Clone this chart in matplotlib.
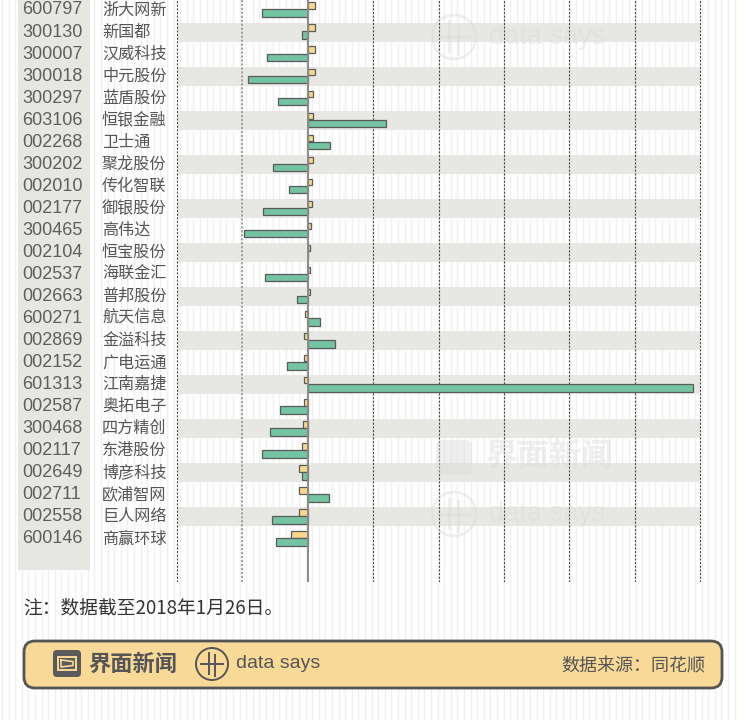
import matplotlib
matplotlib.use("Agg")
import matplotlib.pyplot as plt
import matplotlib.transforms as mtrans
from matplotlib.patches import Rectangle, FancyBboxPatch, Circle
import numpy as np

plt.rcParams['font.family'] = ['Noto Sans CJK SC', 'DejaVu Sans']

# ---------------- data ----------------
codes = ['600797', '300130', '300007', '300018', '300297', '603106', '002268', '300202',
         '002010', '002177', '300465', '002104', '002537', '002663', '600271', '002869',
         '002152', '601313', '002587', '300468', '002117', '002649', '002711', '002558',
         '600146']
names = ['浙大网新', '新国都', '汉威科技', '中元股份', '蓝盾股份', '恒银金融', '卫士通', '聚龙股份',
         '传化智联', '御银股份', '高伟达', '恒宝股份', '海联金汇', '普邦股份', '航天信息', '金溢科技',
         '广电运通', '江南嘉捷', '奥拓电子', '四方精创', '东港股份', '博彦科技', '欧浦智网', '巨人网络',
         '商赢环球']
yellow_vals = [1.1, 1.1, 1.1, 1.1, 0.8, 0.8, 0.8, 0.8, 0.6, 0.6, 0.5, 0.3, 0.3, 0.3, -0.4,
               -0.6, -0.6, -0.6, -0.6, -0.7, -0.9, -1.3, -1.3, -1.3, -2.6]
green_vals = [-7.0, -0.9, -6.3, -9.1, -4.6, 11.9, 3.4, -5.3, -2.8, -6.9, -9.8, 0.0, -6.6, -1.6,
              1.8, 4.2, -3.1, 58.9, -4.3, -5.7, -7.0, -0.9, 3.2, -5.4, -4.8]
grid_ticks = [-20, -10, 10, 20, 30, 40, 50, 60]
note_text = '注：数据截至2018年1月26日。'
source_text = '数据来源：同花顺'
brand_cn = '界面新闻'
brand_en = 'data says'

# ---------------- styling ----------------
W, H = 740, 720
TXT = '#555555'
GREEN = '#74c3a2'
YELLOW = '#f9d88e'
EDGE = '#5a5a5a'
STRIPE = '#e7e7e3'

fig = plt.figure(figsize=(W / 100, H / 100), dpi=100)
fig.patch.set_facecolor('#fefefc')

# background pixel axes
bg = fig.add_axes([0, 0, 1, 1], zorder=0)
bg.set_xlim(0, W)
bg.set_ylim(H, 0)
bg.axis('off')
bg.patch.set_alpha(0)
for xv in np.arange(2, W, 6.6):
    bg.axvline(xv, color='#f0f1f8', lw=1.0, zorder=0)

# code column
bg.add_patch(Rectangle((18, 0), 72, 570, facecolor='#e6e6e2', edgecolor='none', zorder=1))

# main axes: -20 at x=177px, 60 at x=700px
top_px, bot_px = 0, 582
px_per_unit = (700 - 177) / 80.0
left_px, right_px = 168, 712
ax = fig.add_axes([left_px / W, 1 - bot_px / H, (right_px - left_px) / W, (bot_px - top_px) / H],
                  zorder=1)
ax.patch.set_alpha(0)
n = len(codes)
y = np.arange(n)
row_px = 22.04
ax.set_xlim(-20 - (177 - left_px) / px_per_unit, 60 + (right_px - 700) / px_per_unit)
ax.set_ylim((bot_px - 10) / row_px, -10 / row_px)
for s in ax.spines.values():
    s.set_visible(False)
ax.set_xticks([])
ax.set_yticks([])

for i in y:
    if i % 2 == 1:
        ax.add_patch(Rectangle((grid_ticks[0] + 0.15, i - 0.43), grid_ticks[-1] - grid_ticks[0] - 0.15,
                               0.86, facecolor=STRIPE, edgecolor='none', zorder=0))

for t in grid_ticks:
    if t == -10:
        ax.axvline(t, color='#9a9a9a', lw=1.3, ls=(0, (1.2, 1.0)), zorder=1)
    else:
        ax.axvline(t, color='#4a4a4a', lw=0.8, ls=(0, (2.0, 1.3)), zorder=1)
ax.axvline(0, color='#8a8a8a', lw=1.4, zorder=4)

ax.barh(y - 0.2, yellow_vals, height=0.29, color=YELLOW, edgecolor=EDGE, lw=0.9, zorder=3)
ax.barh(y + 0.145, green_vals, height=0.34, color=GREEN, edgecolor=EDGE, lw=0.9, zorder=3)

# row labels
tr = mtrans.blended_transform_factory(bg.transData, ax.transData)
for i in y:
    ax.text(22, i, codes[i], transform=tr, ha='left', va='center', fontsize=13,
            color='#5e5e5e', family=['Liberation Sans', 'DejaVu Sans'], clip_on=False)
    ax.text(102, i, names[i], transform=tr, ha='left', va='center', fontsize=11.6,
            color=TXT, fontweight='medium', clip_on=False)

# foreground pixel axes (watermarks & footer)
fg = fig.add_axes([0, 0, 1, 1], zorder=2)
fg.set_xlim(0, W)
fg.set_ylim(H, 0)
fg.axis('off')
fg.patch.set_alpha(0)

WM = '#d9d9d9'
WA = 0.4
# data says watermarks
for cy in (37, 514):
    fg.add_patch(Circle((454, cy), 22, facecolor='none', edgecolor=WM, lw=2.0, alpha=WA))
    fg.plot([449, 449], [cy - 16, cy + 14], color=WM, lw=2.0, alpha=WA)
    fg.plot([458, 458], [cy - 13, cy + 17], color=WM, lw=2.0, alpha=WA)
    fg.plot([438, 470], [cy, cy], color=WM, lw=2.0, alpha=WA)
    fg.text(489, cy, brand_en, ha='left', va='center', fontsize=19.5, color=WM, alpha=WA,
            family=['Liberation Sans', 'DejaVu Sans'])
# 界面新闻 watermark
fg.add_patch(FancyBboxPatch((436, 440), 36, 35, boxstyle='round,pad=0,rounding_size=6',
                            facecolor=WM, edgecolor='none', alpha=WA))
fg.text(486, 457, brand_cn, ha='left', va='center', fontsize=23, fontweight='bold', color=WM,
        alpha=WA)

# note
fg.text(23, 608, note_text, ha='left', va='center', fontsize=13.5, color='#333333')

# footer box
fg.add_patch(FancyBboxPatch((24, 641), 698, 47, boxstyle='round,pad=0,rounding_size=11',
                            facecolor='#f8d998', edgecolor='#555555', lw=2.0))
# icon
fg.add_patch(FancyBboxPatch((53, 650), 28, 27, boxstyle='round,pad=0,rounding_size=4',
                            facecolor='#5b5b5b', edgecolor='none'))
fg.add_patch(Rectangle((58, 657), 18, 13, facecolor='none', edgecolor='#f8d998', lw=1.4))
fg.plot([61, 73, 73, 61, 61], [660, 661.5, 665.5, 667, 660], color='#f8d998', lw=1.2)
fg.text(88, 664, brand_cn, ha='left', va='center', fontsize=16, fontweight='bold', color='#555555')
# circle logo
fg.add_patch(Circle((212, 664), 16, facecolor='none', edgecolor='#555555', lw=1.4))
fg.plot([209, 209], [653, 674], color='#555555', lw=1.4)
fg.plot([215, 215], [655, 676], color='#555555', lw=1.4)
fg.plot([201, 223], [664, 664], color='#555555', lw=1.4)
fg.text(236, 664, brand_en, ha='left', va='center', fontsize=14, color='#555555',
        family=['Liberation Sans', 'DejaVu Sans'])
fg.text(705, 666, source_text, ha='right', va='center', fontsize=13, color='#555555')

fig.savefig('out.png', dpi=100, facecolor=fig.get_facecolor())
